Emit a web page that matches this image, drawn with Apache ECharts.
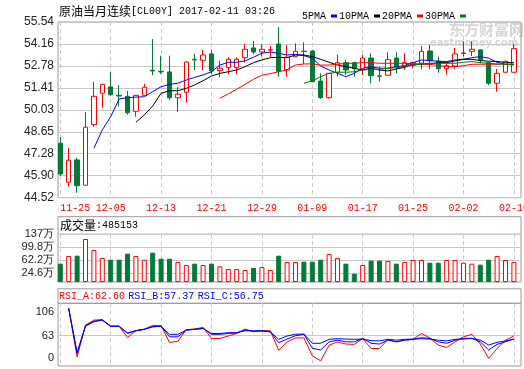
<!DOCTYPE html>
<html><head><meta charset="utf-8">
<script src="https://cdn.jsdelivr.net/npm/echarts@6/dist/echarts.min.js"></script>
<style>html,body{margin:0;padding:0;background:#fff}#c{width:524px;height:369px}</style>
</head><body><div id="c"></div>
<script>
const titleName = '原油当月连续';
const titleCode = '[CL00Y] 2017-02-11 03:26';
const volumeLabel = '成交量';
const volumeLast = 485153;
const dates = ['11-25','11-28','11-29','11-30','12-01','12-02','12-05','12-06','12-07','12-08','12-09','12-12','12-13','12-14','12-15','12-16','12-19','12-20','12-21','12-22','12-23','12-26','12-27','12-28','12-29','12-30','01-03','01-04','01-05','01-06','01-09','01-10','01-11','01-12','01-13','01-16','01-17','01-18','01-19','01-20','01-23','01-24','01-25','01-26','01-27','01-30','01-31','02-01','02-02','02-03','02-06','02-07','02-08','02-09','02-10'];
const open  = [47.93,45.49,46.89,45.30,49.10,51.07,51.47,50.94,50.88,49.94,50.94,52.51,52.45,52.41,50.79,51.13,53.20,53.14,53.54,52.49,52.68,52.68,53.30,53.91,53.66,53.78,54.16,52.53,53.36,53.71,53.72,51.84,50.79,52.39,52.99,52.99,52.57,53.28,52.16,52.20,53.28,52.74,52.82,52.95,53.72,53.08,52.61,52.78,53.56,53.70,53.79,52.99,51.70,52.39,52.39];
const close = [46.01,46.87,45.27,48.94,50.88,51.63,50.98,50.90,49.85,50.94,51.45,52.47,52.41,50.79,51.01,53.03,53.16,53.47,52.47,52.64,53.20,53.20,53.83,53.66,53.83,53.80,52.45,53.33,53.70,53.69,51.80,50.79,52.32,52.99,52.53,52.61,53.28,52.17,52.14,53.18,52.74,52.99,52.99,53.70,53.11,52.61,52.80,53.54,53.60,53.83,53.16,51.70,52.32,53.08,53.87];
const low   = [45.88,45.21,44.83,45.28,48.97,50.17,50.90,50.23,49.73,49.60,50.92,52.20,52.28,50.65,49.92,50.48,52.53,52.53,52.28,52.07,52.26,52.26,53.01,53.52,53.37,53.35,52.11,52.11,53.34,52.90,51.76,50.71,50.73,52.11,52.22,52.11,52.22,51.70,51.80,52.18,52.32,52.53,52.64,52.57,52.57,52.36,52.24,52.61,53.37,53.41,52.95,51.59,51.17,52.37,52.37];
const high  = [48.31,47.64,47.03,49.90,51.78,51.66,52.41,51.57,51.21,50.96,51.65,54.47,53.43,53.43,51.45,53.07,53.54,53.80,53.80,53.11,53.33,53.33,54.16,54.35,54.14,54.04,55.21,54.10,54.20,54.27,53.79,52.32,52.33,53.49,53.16,53.05,53.49,53.58,52.74,53.64,53.64,53.58,53.05,54.04,54.10,53.37,52.99,53.91,54.33,54.33,53.83,53.00,52.59,53.11,54.14];
const volume = [52.6,74.7,75.6,123.5,91.9,68.9,64,64,81.3,74.7,64,84.2,67,67,57.4,48.8,52.6,48.8,52.6,45,37.3,37.3,34.5,40.2,43,34.5,75.6,57.4,57.4,58.4,58.4,64,80.4,68.9,52.6,23.9,48.8,61.3,61.3,60.3,52.6,57.4,63.2,63.2,55.5,55.5,63.2,63.2,55.5,52.6,49.7,64,74.7,63.2,57.4];
const ma5 = [null,null,null,null,47.62,48.77,49.60,50.71,50.79,50.83,50.85,51.17,51.48,51.63,51.70,51.90,52.07,52.22,52.42,52.84,53.01,53.01,53.10,53.33,53.58,53.66,53.58,53.47,53.51,53.43,53.27,52.78,52.53,52.32,52.11,52.32,52.64,52.74,52.64,52.64,52.74,52.80,52.99,53.16,53.12,53.08,53.06,53.16,53.20,53.30,53.37,53.27,53.01,52.89,52.89];
const ma10 = [null,null,null,null,null,null,null,null,null,49.25,49.71,50.27,51.07,51.23,51.23,51.38,51.59,51.86,52.15,52.32,52.42,52.53,52.74,52.99,53.16,53.30,53.33,53.30,53.47,53.47,53.37,53.20,53.01,52.84,52.74,52.64,52.53,52.64,52.53,52.47,52.59,52.70,52.89,52.89,52.91,52.99,52.99,53.10,53.20,53.20,53.12,53.08,53.06,53.01,52.99];
const ma20 = [null,null,null,null,null,null,null,null,null,null,null,null,null,null,null,null,null,null,null,50.76,51.03,51.32,51.63,51.95,52.20,52.30,52.42,52.55,52.84,52.91,52.91,52.84,52.84,52.89,52.95,52.95,52.99,52.99,52.95,52.95,52.95,52.95,52.91,52.91,52.89,52.80,52.74,52.74,52.80,52.89,52.89,52.89,52.89,52.89,52.89];
const ma30 = [null,null,null,null,null,null,null,null,null,null,null,null,null,null,null,null,null,null,null,null,null,null,null,null,null,null,null,null,null,51.70,51.84,52.11,52.32,52.39,52.39,52.42,52.53,52.57,52.57,52.64,52.67,52.74,52.84,52.91,52.95,52.95,52.95,52.95,53.01,53.06,52.99,52.95,52.91,52.89,52.84];
const rsiA = [null,112,25,82,91,92,80,80,60,72,74.5,81.5,81,51,53,74,75,78,58,58,62.5,67,75,70,72,72,37,52,59,59,27,18,46,52,48,47.5,58,40,40,56.5,52,55,56.5,67,59,46,42,52,61,65.5,48,22.5,40,55,62.60];
const rsiB = [null,112,31,81,89,91,80,80,68,72,74.5,79,80,61,61,73,74.5,76,65.5,65.5,67,68,73,71.5,72,70,50.5,57,63,65.5,40.4,37.4,52,55,52,52,58,49.4,48,55,52,55,56.5,59.4,58,52,49.4,55,58.3,58.3,52,37.4,47.5,52,57.37];
const rsiC = [null,112,33,80,88,91,80,80,67,72,74.5,79,80,65.5,65.5,73,74.5,76,67,67,68.4,68.5,72,71.5,71.5,70,56.5,62.5,65.6,66,49.4,49.4,56.5,57.7,57,56.5,57,54.2,53.7,56.5,55,56.5,57,57.6,57,55,53.7,56.5,57,58.3,55,46.3,51.2,53.7,56.75];
const priceTicks = [44.52,45.90,47.28,48.65,50.03,51.41,52.78,54.16,55.54];
const volumeTicks = [0,24.6,62.2,99.8,137];
const rsiTicks = [23.6,63,106];
const maNames = ['5PMA','10PMA','20PMA','30PMA'];

const RED = '#ff0000', GREEN = '#037a38', GRID = '#c8c8c8', FRAME = '#999';
const MONO = 'Liberation Mono', SANS = 'Liberation Sans', CJK = 'Noto Sans CJK SC';

const candles = dates.map((d, i) => [open[i], close[i], low[i], high[i]]);
const volData = volume.map((v, i) => ({
  value: v,
  itemStyle: close[i] >= open[i] ? {color: '#fff', borderColor: RED, borderWidth: 1}
                                   : {color: GREEN, borderColor: GREEN, borderWidth: 1}
}));

const L = 58, W = 463, DL = 60.3, DW = 453.6;
const panels = [{top: 22, h: 175.7}, {top: 234.3, h: 47.7}, {top: 303.3, h: 62.7}];
const grids = [];
panels.forEach(p => {
  grids.push({left: L, top: p.top, width: W, height: p.h, show: true, borderColor: FRAME, borderWidth: 1, backgroundColor: 'transparent', outerBoundsMode: 'none'});
  grids.push({left: DL, top: p.top, width: DW, height: p.h, show: false, outerBoundsMode: 'none'});
});
const dashedSplit = {show: true, interval: 5, lineStyle: {color: GRID, type: [4, 3], width: 1}};
const xAxes = [];
[0, 1, 2].forEach(k => {
  xAxes.push({gridIndex: 2 * k, type: 'value', show: false, min: 0, max: 1});
  xAxes.push({gridIndex: 2 * k + 1, type: 'category', data: dates, boundaryGap: false,
    axisLine: {show: false}, axisTick: {show: false},
    axisLabel: k === 0 ? {show: true, interval: 5, color: RED, fontFamily: MONO, fontSize: 10, margin: 6, alignMinLabel: 'left'} : {show: false},
    splitLine: dashedSplit});
});
function frameY(gi, min, max, ticks, fmt, fs, splitTicks) {
  return {gridIndex: gi, type: 'value', min: min, max: max,
    axisLine: {show: false},
    axisTick: {show: false, customValues: splitTicks || ticks},
    axisLabel: {customValues: ticks, formatter: fmt, color: '#222', fontFamily: SANS, fontSize: fs, margin: 4},
    splitLine: {show: true, lineStyle: {color: GRID, width: 1}}};
}
const yAxes = [
  frameY(0, 44.52, 55.54, priceTicks, v => v.toFixed(2), 12),
  {gridIndex: 1, type: 'value', min: 44.52, max: 55.54, show: false},
  frameY(2, 0, 137, volumeTicks, v => v === 0 ? '0' : v + '万', 11),
  {gridIndex: 3, type: 'value', min: 0, max: 137, show: false},
  frameY(4, 8.7, 121.1, rsiTicks, v => v < 30 ? '0' : String(v), 11, [63]),
  {gridIndex: 5, type: 'value', min: 8.7, max: 121.1, show: false}
];
const maColors = ['#0000ff', '#000000', '#ff0000', '#008000'];
const maData = [ma5, ma10, ma20, ma30];
const lineS = (name, data, color, xi, yi) => ({type: 'line', name: name, data: data, xAxisIndex: xi, yAxisIndex: yi,
  showSymbol: false, symbol: 'none', lineStyle: {color: color, width: 1}, itemStyle: {color: color}, connectNulls: false, z: 3});

const series = [
  {type: 'candlestick', name: 'K', data: candles, xAxisIndex: 1, yAxisIndex: 1, barWidth: 5, clip: false,
   itemStyle: {color: '#fff', color0: GREEN, borderColor: RED, borderColor0: GREEN, borderWidth: 1}}
];
maNames.forEach((n, i) => series.push(lineS(n, maData[i], maColors[i], 1, 1)));
series.push({type: 'bar', name: 'VOL', data: volData, xAxisIndex: 3, yAxisIndex: 3, barWidth: 5, clip: false});
series.push(lineS('RSI_A', rsiA, RED, 5, 5));
series.push(lineS('RSI_B', rsiB, '#0000ff', 5, 5));
series.push(lineS('RSI_C', rsiC, '#0000ff', 5, 5));

const rsiText = '{r|RSI_A:' + rsiA[rsiA.length - 1].toFixed(2) + '} {b|RSI_B:' + rsiB[rsiB.length - 1].toFixed(2) + '} {b|RSI_C:' + rsiC[rsiC.length - 1].toFixed(2) + '}';

const chart = echarts.init(document.getElementById('c'), null, {renderer: 'canvas'});
chart.setOption({
  animation: false,
  backgroundColor: '#fff',
  grid: grids,
  xAxis: xAxes,
  yAxis: yAxes,
  legend: {data: maNames, left: 297, top: 6, itemWidth: 6, itemHeight: 3, itemGap: 2, align: 'right', icon: 'rect',
    selectedMode: false, textStyle: {fontFamily: MONO, fontSize: 10, color: '#000'}},
  graphic: [
    {type: 'text', left: 449, top: 22, z: -1, silent: true, style: {text: '东方财富网', font: 'bold 15px "Noto Sans CJK SC"', fill: '#d6d6d6'}},
    {type: 'text', left: 430, top: 38, z: -1, silent: true, style: {text: 'eastmoney.com', font: 'bold 10px "DejaVu Sans"', fill: '#d6d6d6'}},
    {type: 'rect', silent: true, shape: {x: L, y: 216.7, width: W, height: 17.6}, style: {fill: 'none', stroke: FRAME, lineWidth: 1}},
    {type: 'rect', silent: true, shape: {x: L, y: 288.8, width: W, height: 14.5}, style: {fill: 'none', stroke: FRAME, lineWidth: 1}},
    {type: 'text', x: 59, y: 11, silent: true, style: {text: '{a|' + titleName + '}{b|' + titleCode + '}', verticalAlign: 'middle',
      rich: {a: {fontFamily: CJK, fontSize: 12, fill: '#000'}, b: {fontFamily: MONO, fontSize: 10, fill: '#000'}}}},
    {type: 'text', x: 60, y: 225.8, silent: true, style: {text: '{a|' + volumeLabel + '}{b|:' + volumeLast + '}', verticalAlign: 'middle',
      rich: {a: {fontFamily: CJK, fontSize: 12, fill: '#000'}, b: {fontFamily: MONO, fontSize: 10, fill: '#000'}}}},
    {type: 'text', x: 59, y: 296, silent: true, style: {text: rsiText, verticalAlign: 'middle',
      rich: {r: {fontFamily: MONO, fontSize: 10, fill: RED}, b: {fontFamily: MONO, fontSize: 10, fill: '#0000ff'}}}}
  ],
  series: series
});
</script>
</body></html>
